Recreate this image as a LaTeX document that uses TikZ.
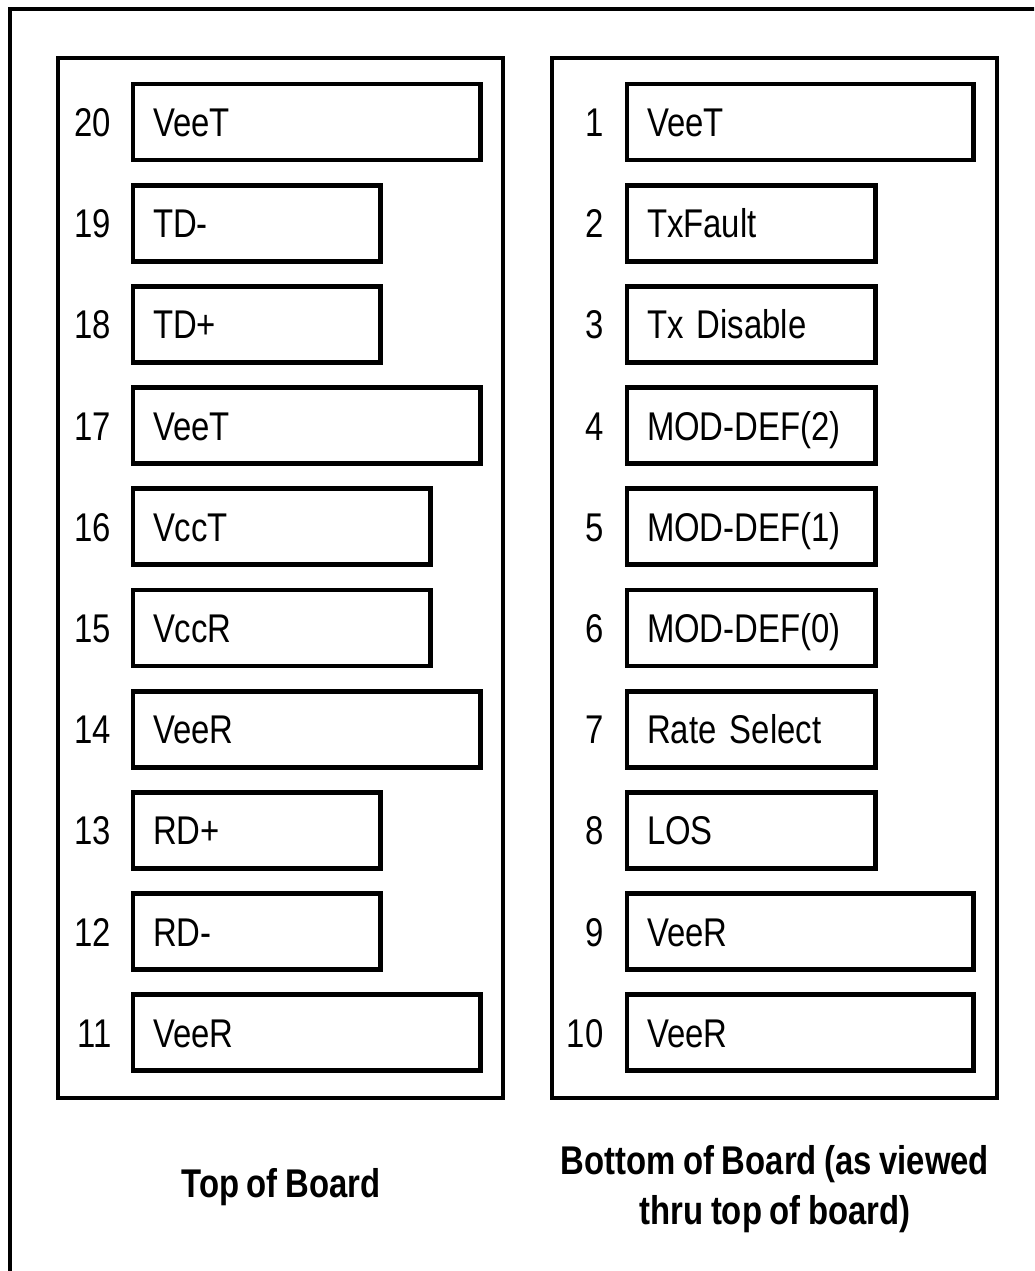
\documentclass[tikz,border=0pt]{standalone}
\usepackage{fontspec}
\setmainfont{Liberation Sans}[FakeStretch=0.82, WordSpace=0.82]
\usetikzlibrary{positioning}

\begin{document}
\begin{tikzpicture}[x=0.01cm, y=-0.01cm,
  every node/.style={font=\fontsize{11.4pt}{14.2pt}\selectfont},
  panel/.style={draw, line width=1.15pt, minimum width=4.45cm, minimum height=10.39cm, anchor=north west, outer sep=0pt},
  pinbox/.style={draw, line width=1.4pt, minimum height=0.76cm, inner xsep=0.2cm, inner ysep=0pt,
    text height=0.29cm, text depth=0pt, text width=#1, align=left, anchor=west, outer sep=0pt},
  pinnum/.style={inner sep=0pt, text height=0.29cm, text depth=0pt},
  boardlabel/.style={font=\fontsize{11.4pt}{14.2pt}\selectfont\bfseries, align=center}]
  \clip (0,0) rectangle (1034,1271);

  % Outer frame (cut off at right and bottom)
  \draw[line width=1.15pt] (10,9) rectangle (1060,1300);

  % Panels
  \node[panel] (toppanel) at (58,58) {};
  \node[panel] (botpanel) at (552,58) {};

  % Top of board pins
  \node[pinbox=3.07cm] (p20) at (133,122) {VeeT};
  \node[pinbox=2.07cm] (p19) at (133,223.2) {TD-};
  \node[pinbox=2.07cm] (p18) at (133,324.4) {TD+};
  \node[pinbox=3.07cm] (p17) at (133,425.6) {VeeT};
  \node[pinbox=2.57cm] (p16) at (133,526.8) {VccT};
  \node[pinbox=2.57cm] (p15) at (133,628) {VccR};
  \node[pinbox=3.07cm] (p14) at (133,729.2) {VeeR};
  \node[pinbox=2.07cm] (p13) at (133,830.4) {RD+};
  \node[pinbox=2.07cm] (p12) at (133,931.6) {RD-};
  \node[pinbox=3.07cm] (p11) at (133,1032.8) {VeeR};

  \node[pinnum, left=0.21cm of p20] {20};
  \node[pinnum, left=0.21cm of p19] {19};
  \node[pinnum, left=0.21cm of p18] {18};
  \node[pinnum, left=0.21cm of p17] {17};
  \node[pinnum, left=0.21cm of p16] {16};
  \node[pinnum, left=0.21cm of p15] {15};
  \node[pinnum, left=0.21cm of p14] {14};
  \node[pinnum, left=0.21cm of p13] {13};
  \node[pinnum, left=0.21cm of p12] {12};
  \node[pinnum, left=0.21cm of p11] {11};

  % Bottom of board pins
  \node[pinbox=3.06cm] (p1) at (627,122) {VeeT};
  \node[pinbox=2.08cm] (p2) at (627,223.2) {TxFault};
  \node[pinbox=2.08cm] (p3) at (627,324.4) {Tx Disable};
  \node[pinbox=2.08cm] (p4) at (627,425.6) {MOD-DEF(2)};
  \node[pinbox=2.08cm] (p5) at (627,526.8) {MOD-DEF(1)};
  \node[pinbox=2.08cm] (p6) at (627,628) {MOD-DEF(0)};
  \node[pinbox=2.08cm] (p7) at (627,729.2) {Rate Select};
  \node[pinbox=2.08cm] (p8) at (627,830.4) {LOS};
  \node[pinbox=3.06cm] (p9) at (627,931.6) {VeeR};
  \node[pinbox=3.06cm] (p10) at (627,1032.8) {VeeR};

  \node[pinnum, left=0.23cm of p1] {1};
  \node[pinnum, left=0.23cm of p2] {2};
  \node[pinnum, left=0.23cm of p3] {3};
  \node[pinnum, left=0.23cm of p4] {4};
  \node[pinnum, left=0.23cm of p5] {5};
  \node[pinnum, left=0.23cm of p6] {6};
  \node[pinnum, left=0.23cm of p7] {7};
  \node[pinnum, left=0.23cm of p8] {8};
  \node[pinnum, left=0.23cm of p9] {9};
  \node[pinnum, left=0.23cm of p10] {10};

  % Labels
  \node[boardlabel] (toplabel) at (281,1187) {Top of Board};
  \node[boardlabel] (botlabel) at (775,1189) {Bottom of Board (as viewed\\thru top of board)};
\end{tikzpicture}
\end{document}
